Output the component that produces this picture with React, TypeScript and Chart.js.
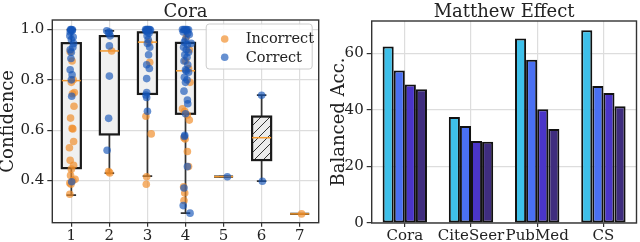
import React, { useEffect, useRef } from 'react';
import { Chart, registerables } from 'chart.js';

Chart.register(...registerables);

const FONT = "'DejaVu Serif', serif";
const TEXT = '#222222';
const GRID = '#dddddd';
const SPINE = '#333333';

// ---------- Left panel: Cora confidence box plot ----------
const boxCategories = [1, 2, 3, 4, 5, 6, 7];
const boxWhiskerLow = [0.342, 0.429, 0.417, 0.27, 0.415, 0.397, 0.267];
const boxQ1 = [0.449, 0.583, 0.744, 0.665, 0.415, 0.481, 0.267];
const boxMedian = [0.797, 0.915, 0.95, 0.836, 0.415, 0.57, 0.267];
const boxQ3 = [0.946, 0.974, 0.989, 0.947, 0.415, 0.654, 0.267];
const boxWhiskerHigh = [1.0, 0.995, 1.0, 1.0, 0.415, 0.739, 0.267];
const boxHatched = [false, false, false, false, false, true, false];
const confidenceTicks = [0.4, 0.6, 0.8, 1.0];

const incorrectPoints: [number, number][] = [
  [0.97, 0.912], [1.02, 0.875], [1.05, 0.8], [1.0, 0.79], [1.08, 0.75], [1.03, 0.745],
  [1.07, 0.695], [0.98, 0.648], [1.02, 0.607], [1.04, 0.605], [1.06, 0.555], [0.95, 0.53],
  [0.97, 0.48], [1.06, 0.46], [1.0, 0.445], [0.98, 0.42], [1.1, 0.405], [1.04, 0.4],
  [0.96, 0.39], [0.99, 0.385], [0.96, 0.345],
  [2.06, 0.915], [1.98, 0.435], [2.01, 0.43],
  [3.04, 0.95], [3.06, 0.87], [2.96, 0.655], [3.1, 0.585], [2.98, 0.415], [2.97, 0.385],
  [4.02, 0.97], [4.1, 0.92], [4.0, 0.875], [4.08, 0.845], [4.12, 0.79], [3.92, 0.685],
  [3.98, 0.675], [4.05, 0.66], [4.1, 0.64], [3.96, 0.57], [3.99, 0.565], [4.05, 0.515],
  [4.08, 0.455], [3.95, 0.375], [3.98, 0.35], [3.96, 0.32],
  [7.05, 0.267],
];

const correctPoints: [number, number][] = [
  [0.98, 1.0], [1.0, 1.0], [1.03, 0.999], [0.99, 0.997], [1.02, 0.995], [0.97, 0.99],
  [0.96, 0.975], [1.05, 0.97], [1.0, 0.96], [1.06, 0.945], [1.04, 0.93], [0.97, 0.92],
  [1.0, 0.91], [0.99, 0.885], [0.97, 0.84], [1.02, 0.82], [1.0, 0.8], [1.01, 0.735], [1.01, 0.395],
  [1.93, 0.995], [2.0, 0.99], [2.02, 0.975], [1.98, 0.985], [2.0, 0.935], [2.0, 0.815],
  [1.98, 0.647], [1.94, 0.52],
  [2.95, 1.0], [2.98, 1.0], [3.0, 1.0], [3.03, 1.0], [3.06, 1.0], [3.08, 0.998], [2.96, 0.995],
  [3.0, 0.99], [3.04, 0.985], [2.99, 0.975], [3.02, 0.96], [3.0, 0.945], [3.06, 0.93],
  [3.03, 0.9], [2.98, 0.86], [3.05, 0.845], [2.98, 0.805], [2.98, 0.75], [2.96, 0.74],
  [2.98, 0.73], [3.0, 0.675],
  [3.92, 1.0], [3.96, 1.0], [4.0, 1.0], [4.04, 1.0], [4.08, 0.999], [4.02, 0.995], [3.94, 0.99],
  [4.06, 0.985], [4.1, 0.98], [4.0, 0.96], [3.97, 0.95], [4.15, 0.945], [4.05, 0.94],
  [3.95, 0.93], [4.02, 0.92], [4.08, 0.91], [3.98, 0.9], [4.04, 0.89], [3.96, 0.875],
  [4.06, 0.86], [4.0, 0.84], [4.02, 0.835], [4.08, 0.83], [3.97, 0.81], [4.04, 0.8],
  [4.0, 0.79], [3.96, 0.755], [4.05, 0.72], [4.06, 0.705], [4.0, 0.665], [3.98, 0.58],
  [3.97, 0.575], [4.05, 0.455], [3.96, 0.37], [3.94, 0.3], [4.12, 0.27],
  [5.1, 0.415],
  [6.0, 0.739], [6.02, 0.397],
];

// ---------- Right panel: Matthew Effect bars ----------
const barCategories = ['Cora', 'CiteSeer', 'PubMed', 'CS'];
const barGroup1 = [62.5, 37.5, 65.3, 68.2];
const barGroup2 = [54.0, 34.3, 57.8, 48.5];
const barGroup3 = [49.0, 29.0, 40.3, 46.0];
const barGroup4 = [47.3, 28.8, 33.3, 41.3];
const barColors = ['#3ec0ea', '#4a70f2', '#4a35c8', '#3f2d7e'];
const accTicks = [0, 20, 40, 60];

const ORANGE = 'rgba(240,140,40,0.68)';
const BLUE = 'rgba(20,85,185,0.65)';
const MEDIAN = '#f39a30';

function makeHatch(ctx: CanvasRenderingContext2D) {
  const s = 9;
  const c = document.createElement('canvas');
  c.width = s;
  c.height = s;
  const g = c.getContext('2d')!;
  g.fillStyle = '#ececec';
  g.fillRect(0, 0, s, s);
  g.strokeStyle = '#333';
  g.lineWidth = 1;
  g.beginPath();
  g.moveTo(-1, s + 1);
  g.lineTo(s + 1, -1);
  g.moveTo(-1, 1);
  g.lineTo(1, -1);
  g.moveTo(s - 1, s + 1);
  g.lineTo(s + 1, s - 1);
  g.stroke();
  return ctx.createPattern(c, 'repeat')!;
}

const boxPlotPlugin = {
  id: 'boxplot',
  beforeDatasetsDraw(chart: any) {
    const ctx: CanvasRenderingContext2D = chart.ctx;
    const xs = chart.scales.x;
    const ys = chart.scales.y;
    const unit = xs.getPixelForValue(2) - xs.getPixelForValue(1);
    const half = unit * 0.25;
    const capHalf = unit * 0.125;
    ctx.save();
    boxCategories.forEach((cat, i) => {
      const cx = xs.getPixelForValue(cat);
      const yLo = ys.getPixelForValue(boxWhiskerLow[i]);
      const yQ1 = ys.getPixelForValue(boxQ1[i]);
      const yMed = ys.getPixelForValue(boxMedian[i]);
      const yQ3 = ys.getPixelForValue(boxQ3[i]);
      const yHi = ys.getPixelForValue(boxWhiskerHigh[i]);
      ctx.strokeStyle = SPINE;
      ctx.lineWidth = 1.7;
      ctx.beginPath();
      ctx.moveTo(cx, yQ1);
      ctx.lineTo(cx, yLo);
      ctx.moveTo(cx, yQ3);
      ctx.lineTo(cx, yHi);
      ctx.moveTo(cx - capHalf, yLo);
      ctx.lineTo(cx + capHalf, yLo);
      ctx.moveTo(cx - capHalf, yHi);
      ctx.lineTo(cx + capHalf, yHi);
      ctx.stroke();
      ctx.fillStyle = boxHatched[i] ? makeHatch(ctx) : '#f0f0f0';
      ctx.fillRect(cx - half, yQ3, 2 * half, yQ1 - yQ3);
      ctx.strokeStyle = '#1a1a1a';
      ctx.lineWidth = 2.2;
      ctx.strokeRect(cx - half, yQ3, 2 * half, yQ1 - yQ3);
      ctx.strokeStyle = MEDIAN;
      ctx.lineWidth = 1.5;
      ctx.beginPath();
      ctx.moveTo(cx - half, yMed);
      ctx.lineTo(cx + half, yMed);
      ctx.stroke();
    });
    ctx.restore();
  },
};

function framePlugin(title: string, yLabel: string, yLabelX: number, legend: boolean) {
  return {
    id: 'frame_' + title.replace(/\s/g, ''),
    afterDraw(chart: any) {
      const ctx: CanvasRenderingContext2D = chart.ctx;
      const a = chart.chartArea;
      ctx.save();
      ctx.strokeStyle = SPINE;
      ctx.lineWidth = 1.4;
      ctx.strokeRect(a.left, a.top, a.right - a.left, a.bottom - a.top);
      ctx.fillStyle = TEXT;
      ctx.font = `18px ${FONT}`;
      ctx.textAlign = 'center';
      ctx.textBaseline = 'alphabetic';
      ctx.fillText(title, (a.left + a.right) / 2, 16.5);
      ctx.save();
      ctx.translate(yLabelX, (a.top + a.bottom) / 2);
      ctx.rotate(-Math.PI / 2);
      ctx.fillText(yLabel, 0, 0);
      ctx.restore();
      if (legend) {
        const lx = a.right - 113;
        const ly = a.top + 3.5;
        const w = 106;
        const h = 45;
        ctx.fillStyle = 'rgba(255,255,255,0.85)';
        ctx.strokeStyle = '#cccccc';
        ctx.lineWidth = 1;
        ctx.beginPath();
        (ctx as any).roundRect(lx + 0.5, ly + 0.5, w, h, 3);
        ctx.fill();
        ctx.stroke();
        const entries: [string, string][] = [['Incorrect', ORANGE], ['Correct', BLUE]];
        entries.forEach(([name, col], k) => {
          const yy = ly + 15.5 + k * 18.3;
          ctx.fillStyle = col;
          ctx.beginPath();
          ctx.arc(lx + 19, yy, 3.8, 0, Math.PI * 2);
          ctx.fill();
          ctx.fillStyle = TEXT;
          ctx.font = `14.5px ${FONT}`;
          ctx.textAlign = 'left';
          ctx.textBaseline = 'middle';
          ctx.fillText(name, lx + 40, yy + 0.5);
        });
      }
      ctx.restore();
    },
  };
}

export default function App() {
  const leftRef = useRef<HTMLCanvasElement>(null);
  const rightRef = useRef<HTMLCanvasElement>(null);

  useEffect(() => {
    document.body.style.margin = '0';
    const tickFont = { family: FONT, size: 15 };

    const left = new Chart(leftRef.current!, {
      type: 'scatter',
      data: {
        datasets: [
          {
            label: 'Correct',
            data: correctPoints.map(([x, y]) => ({ x, y })),
            backgroundColor: BLUE,
            borderWidth: 0,
            pointRadius: 3.8,
          },
          {
            label: 'Incorrect',
            data: incorrectPoints.map(([x, y]) => ({ x, y })),
            backgroundColor: ORANGE,
            borderWidth: 0,
            pointRadius: 3.8,
          },
        ],
      },
      options: {
        animation: false,
        responsive: false,
        layout: { padding: { top: 20, right: 11.3, left: 0, bottom: 0 } },
        plugins: { legend: { display: false }, tooltip: { enabled: false } },
        scales: {
          x: {
            type: 'linear',
            min: 0.5,
            max: 7.5,
            afterBuildTicks: (s: any) => {
              s.ticks = boxCategories.map((v) => ({ value: v }));
            },
            afterFit: (s: any) => {
              s.height = 19.3;
            },
            grid: { color: GRID, lineWidth: 1.2, tickLength: 4, tickColor: SPINE },
            border: { display: false },
            ticks: { font: tickFont, color: TEXT, padding: 0, callback: (v: any) => String(v) },
          },
          y: {
            min: 0.232,
            max: 1.038,
            afterBuildTicks: (s: any) => {
              s.ticks = confidenceTicks.map((v) => ({ value: v }));
            },
            afterFit: (s: any) => {
              s.width = 52.3;
            },
            grid: { color: GRID, lineWidth: 1.2, tickLength: 5, tickColor: SPINE },
            border: { display: false },
            ticks: { font: tickFont, color: TEXT, padding: 3, callback: (v: any) => Number(v).toFixed(1) },
          },
        },
      } as any,
      plugins: [boxPlotPlugin, framePlugin('Cora', 'Confidence', 13, true)],
    });

    const groups = [barGroup1, barGroup2, barGroup3, barGroup4];
    const right = new Chart(rightRef.current!, {
      type: 'bar',
      data: {
        labels: barCategories,
        datasets: groups.map((g, i) => ({
          label: `Group ${i + 1}`,
          data: g,
          backgroundColor: barColors[i],
          borderColor: '#111111',
          borderWidth: 2,
          borderSkipped: false,
          categoryPercentage: 0.67,
          barPercentage: 1.0,
        })),
      },
      options: {
        animation: false,
        responsive: false,
        layout: { padding: { top: 21, right: 3.5, left: 0, bottom: 0 } },
        plugins: { legend: { display: false }, tooltip: { enabled: false } },
        scales: {
          x: {
            afterFit: (s: any) => {
              s.height = 19;
            },
            grid: { color: GRID, lineWidth: 1.2, offset: false, tickLength: 4, tickColor: SPINE },
            border: { display: false },
            ticks: { font: tickFont, color: TEXT, padding: 0, autoSkip: false, maxRotation: 0 },
          },
          y: {
            min: 0,
            max: 71.5,
            afterBuildTicks: (s: any) => {
              s.ticks = accTicks.map((v) => ({ value: v }));
            },
            afterFit: (s: any) => {
              s.width = 41.7;
            },
            grid: { color: GRID, lineWidth: 1.2, tickLength: 5, tickColor: SPINE },
            border: { display: false },
            ticks: { font: tickFont, color: TEXT, padding: 3 },
          },
        },
      } as any,
      plugins: [framePlugin('Matthew Effect', 'Balanced Acc.', 13.5, false)],
    });

    return () => {
      left.destroy();
      right.destroy();
    };
  }, []);

  return (
    <div style={{ position: 'relative', width: 640, height: 242, background: '#ffffff', overflow: 'hidden' }}>
      <canvas ref={leftRef} width={330} height={242} style={{ position: 'absolute', left: 0, top: 0 }} />
      <canvas ref={rightRef} width={310} height={242} style={{ position: 'absolute', left: 330, top: 0 }} />
    </div>
  );
}
